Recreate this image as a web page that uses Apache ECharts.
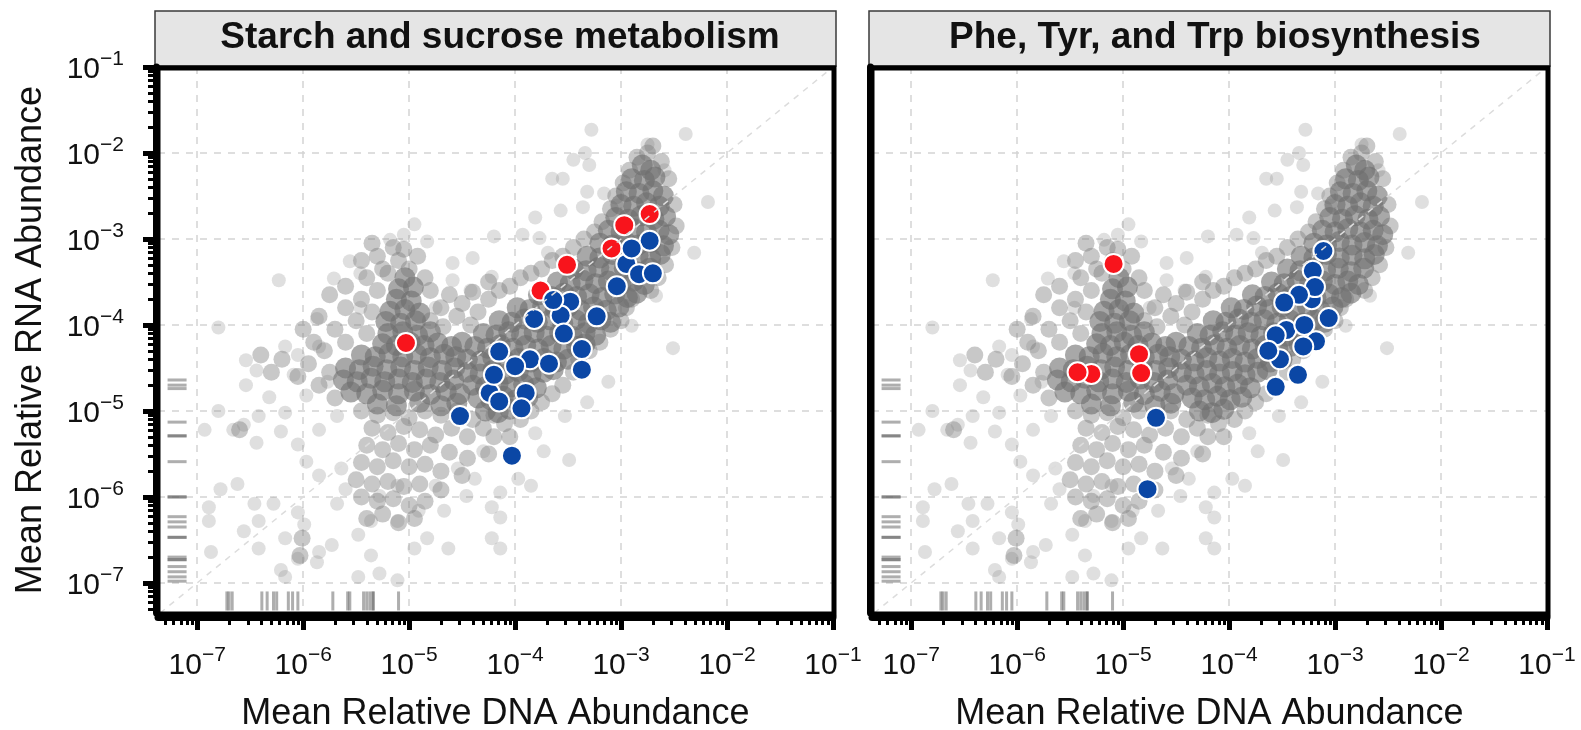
<!DOCTYPE html>
<html>
<head>
<meta charset="utf-8">
<title>Mean relative RNA vs DNA abundance</title>
<script src="https://cdn.jsdelivr.net/npm/echarts@6/dist/echarts.min.js"></script>
<style>
  html, body { margin: 0; padding: 0; background: #fff; }
  #main { width: 1581px; height: 730px; }
</style>
</head>
<body>
<div id="main"></div>
<script>
// every value is log10 of the mean relative abundance, pairs are [DNA, RNA]
var panelTitles = ['Starch and sucrose metabolism', 'Phe, Tyr, and Trp biosynthesis'];
var decades = [-7, -6, -5, -4, -3, -2, -1];

// genes of the pathway, enriched (red) and depleted (blue)
var starchUp = [[-5.03, -4.21], [-3.76, -3.60], [-3.51, -3.30], [-3.09, -3.11], [-2.97, -2.84], [-2.73, -2.71]];
var starchDown = [
  [-2.95, -3.29], [-2.83, -3.41], [-3.48, -3.73], [-3.57, -3.89], [-3.86, -4.40], [-4.24, -4.79],
  [-2.73, -3.02], [-2.90, -3.11], [-2.70, -3.40], [-3.04, -3.55], [-3.64, -3.71], [-3.82, -3.93],
  [-3.23, -3.90], [-3.54, -4.10], [-3.37, -4.28], [-3.37, -4.52], [-4.15, -4.31], [-4.00, -4.48],
  [-3.68, -4.45], [-4.20, -4.58], [-3.90, -4.79], [-4.15, -4.89], [-3.94, -4.97], [-4.52, -5.06],
  [-4.03, -5.52]
];
var aroUp = [[-5.09, -3.29], [-5.30, -4.57], [-5.43, -4.55], [-4.85, -4.34], [-4.83, -4.56]];
var aroDown = [
  [-3.22, -3.70], [-3.21, -3.37], [-3.46, -4.06], [-3.52, -4.40], [-3.18, -4.19],
  [-3.11, -3.14], [-3.19, -3.56], [-3.34, -3.65], [-3.48, -3.74], [-3.06, -3.92], [-3.29, -4.00],
  [-3.56, -4.12], [-3.30, -4.25], [-3.63, -4.30], [-3.35, -4.58], [-3.56, -4.72],
  [-4.69, -5.08], [-4.77, -5.91]
];

// all other genes (same in both panels)
var bgDense = [
  [-2.80, -2.14], [-2.72, -2.20],
  [-2.90, -2.30], [-2.78, -2.32], [-2.68, -2.28],
  [-2.95, -2.45], [-2.83, -2.47], [-2.70, -2.44], [-2.60, -2.50],
  [-3.00, -2.60], [-2.88, -2.62], [-2.76, -2.58], [-2.64, -2.62],
  [-3.05, -2.75], [-2.93, -2.77], [-2.81, -2.73], [-2.69, -2.77], [-2.58, -2.74],
  [-3.12, -2.90], [-3.00, -2.92], [-2.88, -2.88], [-2.76, -2.92], [-2.64, -2.90], [-2.55, -2.95],
  [-3.20, -3.05], [-3.08, -3.07], [-2.96, -3.03], [-2.84, -3.07], [-2.72, -3.04], [-2.60, -3.08],
  [-3.32, -3.20], [-3.20, -3.22], [-3.08, -3.18], [-2.96, -3.22], [-2.84, -3.19], [-2.72, -3.23], [-2.63, -3.18],
  [-3.45, -3.35], [-3.33, -3.37], [-3.21, -3.33], [-3.09, -3.37], [-2.97, -3.34], [-2.85, -3.38], [-2.73, -3.34],
  [-3.60, -3.50], [-3.48, -3.52], [-3.36, -3.48], [-3.24, -3.52], [-3.12, -3.49], [-3.00, -3.53], [-2.88, -3.49], [-2.78, -3.53],
  [-3.78, -3.65], [-3.66, -3.67], [-3.54, -3.63], [-3.42, -3.67], [-3.30, -3.64], [-3.18, -3.68], [-3.06, -3.64], [-2.94, -3.68], [-2.85, -3.63],
  [-3.98, -3.80], [-3.86, -3.82], [-3.74, -3.78], [-3.62, -3.82], [-3.50, -3.79], [-3.38, -3.83], [-3.26, -3.79], [-3.14, -3.83], [-3.02, -3.79],
  [-4.15, -3.95], [-4.03, -3.97], [-3.91, -3.93], [-3.79, -3.97], [-3.67, -3.94], [-3.55, -3.98], [-3.43, -3.94], [-3.31, -3.98], [-3.19, -3.94], [-3.10, -3.97],
  [-4.30, -4.10], [-4.18, -4.12], [-4.06, -4.08], [-3.94, -4.12], [-3.82, -4.09], [-3.70, -4.13], [-3.58, -4.09], [-3.46, -4.13], [-3.34, -4.09], [-3.24, -4.12],
  [-4.38, -4.25], [-4.26, -4.27], [-4.14, -4.23], [-4.02, -4.27], [-3.90, -4.24], [-3.78, -4.28], [-3.66, -4.24], [-3.54, -4.28], [-3.42, -4.25], [-3.34, -4.22],
  [-4.45, -4.40], [-4.33, -4.42], [-4.21, -4.38], [-4.09, -4.42], [-3.97, -4.39], [-3.85, -4.43], [-3.73, -4.39], [-3.61, -4.43], [-3.50, -4.40],
  [-4.45, -4.55], [-4.33, -4.57], [-4.21, -4.53], [-4.09, -4.57], [-3.97, -4.54], [-3.85, -4.58], [-3.73, -4.55], [-3.64, -4.52],
  [-4.40, -4.70], [-4.28, -4.72], [-4.16, -4.68], [-4.04, -4.72], [-3.92, -4.69], [-3.80, -4.73],
  [-4.35, -4.85], [-4.23, -4.87], [-4.11, -4.83], [-3.99, -4.87], [-3.88, -4.84],
  [-4.28, -5.00], [-4.16, -5.02], [-4.05, -4.98],
  [-5.25, -4.22], [-5.12, -4.24], [-4.99, -4.20], [-4.86, -4.24], [-4.73, -4.21], [-4.60, -4.25], [-4.50, -4.20],
  [-5.45, -4.35], [-5.32, -4.37], [-5.19, -4.33], [-5.06, -4.37], [-4.93, -4.34], [-4.80, -4.38], [-4.67, -4.34], [-4.56, -4.37],
  [-5.60, -4.50], [-5.47, -4.52], [-5.34, -4.48], [-5.21, -4.52], [-5.08, -4.49], [-4.95, -4.53], [-4.82, -4.49], [-4.69, -4.53], [-4.57, -4.50],
  [-5.62, -4.64], [-5.49, -4.66], [-5.36, -4.62], [-5.23, -4.66], [-5.10, -4.63], [-4.97, -4.67], [-4.84, -4.63], [-4.71, -4.67], [-4.58, -4.64],
  [-5.55, -4.78], [-5.40, -4.80], [-5.25, -4.76], [-5.10, -4.80], [-4.95, -4.77], [-4.80, -4.81], [-4.65, -4.77], [-4.52, -4.80],
  [-5.30, -4.92], [-5.12, -4.94], [-4.90, -4.90], [-4.70, -4.94], [-4.55, -4.91],
  [-5.20, -4.10], [-5.06, -4.08], [-4.92, -4.12], [-4.80, -4.08],
  [-5.22, -3.96], [-5.08, -3.98], [-4.94, -3.95],
  [-5.18, -3.84], [-5.04, -3.82], [-4.90, -3.86],
  [-5.12, -3.70], [-4.98, -3.72],
  [-5.10, -3.58], [-4.96, -3.56],
  [-5.04, -3.45]
];
var bgMedium = [
  [-4.80, -3.95], [-4.68, -4.02], [-4.55, -3.90], [-4.42, -4.00], [-4.70, -3.80], [-4.50, -3.75],
  [-4.35, -3.85], [-4.62, -3.65], [-4.40, -3.62], [-4.25, -3.70], [-4.15, -3.60], [-4.05, -3.55],
  [-4.25, -3.50], [-3.95, -3.45], [-3.85, -3.40], [-3.75, -3.35], [-3.65, -3.25], [-3.55, -3.20],
  [-3.45, -3.10], [-3.35, -3.00], [-3.25, -2.92], [-3.18, -2.80], [-3.10, -2.65], [-3.05, -2.50],
  [-2.98, -2.35], [-2.92, -2.20], [-2.85, -2.05], [-2.75, -2.00], [-2.70, -1.92], [-2.62, -2.10],
  [-2.55, -2.30], [-2.50, -2.60], [-2.48, -2.85], [-2.52, -3.10], [-2.58, -3.30], [-2.65, -3.45], [-2.72, -3.60],
  [-5.00, -3.35], [-5.10, -3.25], [-4.92, -3.20], [-5.05, -3.12], [-5.20, -3.40], [-4.85, -3.45], [-4.80, -3.60],
  [-5.45, -5.00], [-5.30, -5.05], [-5.15, -5.02], [-5.00, -5.08], [-4.85, -5.00], [-4.70, -5.05], [-4.55, -5.00], [-4.40, -5.10], [-4.30, -5.20],
  [-5.35, -5.20], [-5.20, -5.25], [-5.05, -5.18], [-4.90, -5.22], [-4.75, -5.28], [-4.60, -5.20], [-4.45, -5.30], [-4.20, -5.30],
  [-5.40, -5.40], [-5.25, -5.45], [-5.10, -5.38], [-4.95, -5.45], [-4.80, -5.40], [-4.62, -5.48], [-4.45, -5.55], [-4.25, -5.50],
  [-5.45, -5.60], [-5.30, -5.65], [-5.15, -5.58], [-5.00, -5.65], [-4.85, -5.62], [-4.70, -5.70], [-4.50, -5.75],
  [-5.50, -5.80], [-5.35, -5.85], [-5.20, -5.82], [-5.05, -5.88], [-4.90, -5.85], [-4.70, -5.92],
  [-5.45, -6.00], [-5.30, -6.05], [-5.15, -6.02], [-5.00, -6.10], [-4.85, -6.05],
  [-5.40, -6.25], [-5.25, -6.20], [-5.10, -6.30], [-4.95, -6.25],
  [-4.20, -5.05], [-4.10, -5.15], [-4.05, -5.30], [-3.95, -5.10], [-3.85, -5.00], [-3.75, -4.90],
  [-3.65, -4.80], [-3.55, -4.70], [-3.45, -4.55], [-3.40, -4.40], [-3.30, -4.30], [-3.20, -4.20],
  [-3.10, -4.05], [-3.00, -3.95], [-2.95, -3.80], [-2.90, -3.70],
  [-5.75, -4.55], [-5.85, -4.70], [-5.70, -4.85], [-5.95, -4.45], [-6.05, -4.60], [-6.20, -4.40],
  [-6.30, -4.55], [-6.40, -4.35], [-5.80, -4.30], [-5.90, -4.20], [-5.60, -4.20], [-5.70, -4.05],
  [-5.40, -4.10], [-5.50, -3.95], [-5.35, -3.85], [-5.45, -3.70], [-5.60, -3.80], [-5.30, -3.60],
  [-5.40, -3.45], [-5.25, -3.35], [-5.30, -3.20], [-5.15, -3.10], [-5.35, -3.05], [-5.45, -3.25],
  [-5.60, -3.55], [-5.75, -3.65], [-5.85, -3.90], [-6.00, -4.05],
  [-6.60, -5.22], [-6.03, -6.68], [-6.01, -6.48]
];
var bgSparse = [
  [-3.28, -1.73], [-2.39, -1.78], [-2.75, -1.90], [-3.34, -2.00], [-3.45, -2.08], [-3.30, -2.14],
  [-2.59, -2.20], [-3.65, -2.30], [-3.55, -2.30], [-3.32, -2.45], [-3.16, -2.47], [-2.18, -2.57],
  [-3.57, -2.67], [-3.36, -2.63], [-3.04, -2.61], [-3.81, -2.75], [-4.20, -2.97], [-3.93, -2.95],
  [-3.77, -2.99], [-2.31, -3.16], [-3.69, -3.16], [-4.95, -2.83], [-5.05, -2.95], [-4.83, -3.03],
  [-5.18, -3.01], [-4.40, -3.22], [-5.56, -3.26], [-4.59, -3.28], [-5.46, -3.40], [-4.22, -3.44],
  [-4.42, -3.60], [-5.71, -3.46], [-6.23, -3.48], [-4.59, -3.48], [-5.46, -3.80], [-4.75, -3.80],
  [-5.87, -3.93], [-6.80, -4.03], [-2.90, -4.01], [-2.67, -3.66], [-2.51, -4.27], [-3.49, -5.57],
  [-3.85, -5.87], [-6.17, -4.25], [-6.05, -4.35], [-5.85, -4.25], [-6.54, -4.41], [-6.44, -4.53],
  [-6.09, -4.58], [-5.77, -4.66], [-6.54, -4.70], [-6.32, -4.84], [-5.97, -4.82], [-6.80, -5.00],
  [-6.93, -5.22], [-6.66, -5.22], [-6.56, -5.16], [-6.44, -5.37], [-6.21, -5.24], [-6.05, -5.39],
  [-5.85, -5.22], [-5.68, -5.06], [-6.17, -5.02], [-6.42, -5.06], [-5.97, -5.59], [-5.85, -5.75],
  [-5.64, -5.67], [-5.60, -5.91], [-6.78, -5.91], [-6.62, -5.85], [-6.89, -6.12], [-6.46, -6.08],
  [-6.28, -6.08], [-6.05, -6.18], [-6.89, -6.28], [-6.42, -6.28], [-6.56, -6.40], [-6.17, -6.48],
  [-5.99, -6.32], [-5.85, -6.64], [-5.73, -6.56], [-6.42, -6.60], [-6.87, -6.64], [-6.21, -6.85],
  [-6.05, -6.72], [-5.87, -6.76], [-6.17, -6.93], [-5.36, -6.68], [-5.48, -6.93], [-5.28, -6.89],
  [-5.11, -6.97], [-4.95, -6.60], [-4.83, -6.48], [-4.63, -6.60], [-5.11, -6.28], [-4.91, -6.16],
  [-4.67, -6.16], [-4.46, -5.99], [-4.22, -6.12], [-4.14, -6.24], [-4.22, -6.48], [-4.14, -6.60],
  [-4.14, -5.95], [-5.36, -6.28], [-5.48, -6.44], [-5.68, -6.08], [-5.11, -5.87], [-5.28, -5.99],
  [-4.75, -5.87], [-4.54, -5.67], [-4.30, -5.47], [-4.38, -5.79], [-3.97, -5.79], [-3.81, -5.26],
  [-3.73, -5.47], [-3.53, -5.06], [-3.32, -4.90], [-3.12, -4.66]
];

// genes with no detected DNA (left rug) or no detected RNA (bottom rug)
var zeroDna = -7.19;
var zeroRna = -7.21;
var rugRna = [-4.64, -4.70, -4.74, -5.13, -5.29, -5.29, -5.59, -6.00, -6.00, -6.23, -6.29, -6.35,
  -6.47, -6.47, -6.70, -6.73, -6.73, -6.81, -6.87, -6.93, -6.98];
var rugDna = [-6.72, -6.70, -6.67, -6.39, -6.34, -6.28, -6.25, -6.14, -6.10, -6.05, -5.72, -5.58,
  -5.56, -5.43, -5.40, -5.37, -5.34, -5.34, -5.10];

var X_MIN = -7.37, X_MAX = -1, Y_MIN = -7.35, Y_MAX = -1;
var font = 'Arial';
var panels = [{ left: 158, top: 67, width: 675, height: 546 }, { left: 872, top: 67, width: 675, height: 546 }];

var minorTicks = [];
decades.forEach(function (d) {
  for (var k = 2; k <= 9; k++) {
    var v = d - 1 + Math.log10(k);
    if (v > X_MIN && v < X_MAX) minorTicks.push(v);
  }
});

function tickLabel(margin) {
  return {
    margin: margin,
    customValues: decades,
    fontSize: 30, fontFamily: font, color: '#111',
    formatter: function (v) { return '{b|10}{s|\u2212' + Math.abs(Math.round(v)) + '}'; },
    rich: {
      b: { fontSize: 30, fontFamily: font, color: '#111', lineHeight: 32, verticalAlign: 'bottom' },
      s: { fontSize: 21, fontFamily: font, color: '#111', padding: [0, 0, 15, 0], verticalAlign: 'bottom' }
    }
  };
}
var gridLine = { show: true, lineStyle: { color: '#d4d4d4', width: 1.5, type: [7, 7] } };

function majorX(g) {
  return {
    type: 'value', gridIndex: g, min: X_MIN, max: X_MAX, position: 'bottom', offset: 4,
    axisLine: { show: true, onZero: false, lineStyle: { color: '#000', width: 7 } },
    axisTick: { show: true, customValues: decades, length: 13, lineStyle: { color: '#000', width: 5 } },
    axisLabel: tickLabel(28),
    splitLine: gridLine,
    name: 'Mean Relative DNA Abundance', nameLocation: 'middle', nameGap: 79,
    nameTextStyle: { fontSize: 36, fontFamily: font, color: '#111' }
  };
}
function minorX(g) {
  return {
    type: 'value', gridIndex: g, min: X_MIN, max: X_MAX, position: 'bottom', offset: 4,
    axisLine: { show: false },
    axisTick: { show: true, customValues: minorTicks, length: 8, lineStyle: { color: '#000', width: 3 } },
    axisLabel: { show: false }, splitLine: { show: false }
  };
}

var yAxes = [
  {
    type: 'value', gridIndex: 0, min: Y_MIN, max: Y_MAX, position: 'left', offset: 2,
    axisLine: { show: true, onZero: false, lineStyle: { color: '#000', width: 7 } },
    axisTick: { show: true, customValues: decades, length: 13, lineStyle: { color: '#000', width: 5 } },
    axisLabel: tickLabel(32),
    splitLine: gridLine,
    name: 'Mean Relative RNA Abundance', nameLocation: 'middle', nameRotate: 90, nameGap: 107,
    nameTextStyle: { fontSize: 36, fontFamily: font, color: '#111' }
  },
  {
    type: 'value', gridIndex: 0, min: Y_MIN, max: Y_MAX, position: 'left', offset: 2,
    axisLine: { show: false },
    axisTick: { show: true, customValues: minorTicks.filter(function (v) { return v > Y_MIN; }), length: 8, lineStyle: { color: '#000', width: 3 } },
    axisLabel: { show: false }, splitLine: { show: false }
  },
  {
    type: 'value', gridIndex: 1, min: Y_MIN, max: Y_MAX, position: 'left', offset: 2,
    axisLine: { show: true, onZero: false, lineStyle: { color: '#000', width: 7 } },
    axisTick: { show: false, customValues: decades }, axisLabel: { show: false },
    splitLine: gridLine
  }
];

function bg(data, xi, yi, color, opacity, size) {
  return {
    type: 'scatter', xAxisIndex: xi, yAxisIndex: yi, data: data, symbolSize: size, silent: true,
    itemStyle: { color: color, opacity: opacity }
  };
}

function panelSeries(g, up, down) {
  var xi = g * 2, yi = g === 0 ? 0 : 2;
  return [
    {
      type: 'line', xAxisIndex: xi, yAxisIndex: yi, symbol: 'none', silent: true,
      data: [[Y_MIN, Y_MIN], [Y_MAX, Y_MAX]],
      lineStyle: { color: '#dcdcdc', width: 1.5, type: [6, 6] }
    },
    bg(bgSparse, xi, yi, '#8c8c8c', 0.28, 14),
    bg(bgMedium, xi, yi, '#7c7c7c', 0.42, 17),
    bg(bgDense, xi, yi, '#6e6e6e', 0.6, 21),
    {
      type: 'scatter', xAxisIndex: xi, yAxisIndex: yi, symbol: 'rect', symbolSize: [19, 3], silent: true,
      data: rugRna.map(function (v) { return [zeroDna, v]; }),
      itemStyle: { color: '#5e5e5e', opacity: 0.5 }
    },
    {
      type: 'scatter', xAxisIndex: xi, yAxisIndex: yi, symbol: 'rect', symbolSize: [3, 19], silent: true,
      data: rugDna.map(function (v) { return [v, zeroRna]; }),
      itemStyle: { color: '#5e5e5e', opacity: 0.5 }
    },
    {
      type: 'scatter', xAxisIndex: xi, yAxisIndex: yi, data: up, symbolSize: 20,
      itemStyle: { color: '#f8141c', borderColor: '#fff', borderWidth: 2, opacity: 1 }
    },
    {
      type: 'scatter', xAxisIndex: xi, yAxisIndex: yi, data: down, symbolSize: 20,
      itemStyle: { color: '#0b47a5', borderColor: '#fff', borderWidth: 2, opacity: 1 }
    }
  ];
}

function strip(p, cx, title) {
  return [
    { type: 'rect', shape: { x: p.left - 3, y: 11, width: p.width + 6, height: 55 },
      style: { fill: '#e5e5e5', stroke: '#3a3a3a', lineWidth: 1.5 } },
    { type: 'text', x: cx, y: 38,
      style: { text: title, fill: '#111', fontSize: 37, fontWeight: 'bold', fontFamily: font,
        align: 'center', verticalAlign: 'middle' } },
    { type: 'rect', z: 100, silent: true,
      shape: { x: p.left, y: p.top + 1, width: p.width + 1, height: p.height },
      style: { fill: 'none', stroke: '#000', lineWidth: 5 } }
  ];
}

var chart = echarts.init(document.getElementById('main'), null, { renderer: 'canvas' });
chart.setOption({
  animation: false,
  backgroundColor: '#fff',
  grid: panels.map(function (p) {
    return Object.assign({ show: true, borderWidth: 0, backgroundColor: '#fff', outerBoundsMode: 'none', containLabel: false }, p);
  }),
  xAxis: [majorX(0), minorX(0), majorX(1), minorX(1)],
  yAxis: yAxes,
  series: panelSeries(0, starchUp, starchDown).concat(panelSeries(1, aroUp, aroDown)),
  graphic: strip(panels[0], 500, panelTitles[0]).concat(strip(panels[1], 1215, panelTitles[1]))
});
</script>
</body>
</html>
